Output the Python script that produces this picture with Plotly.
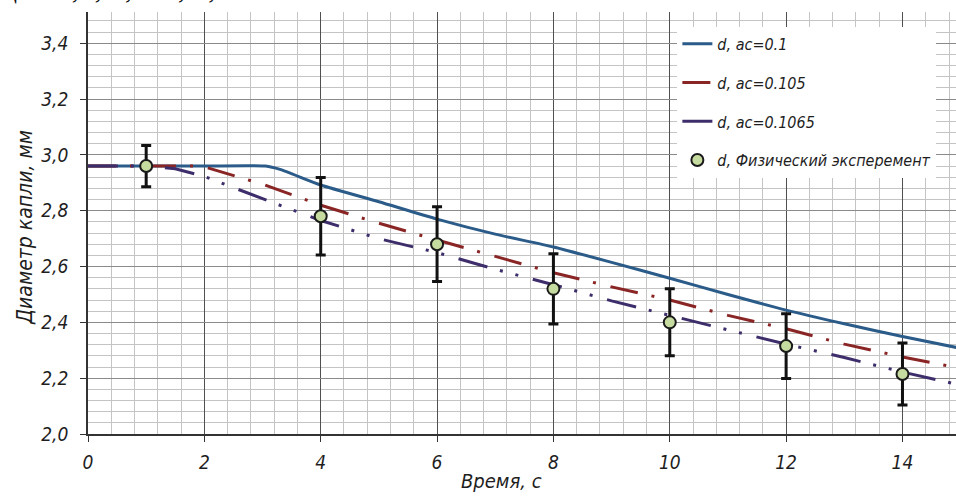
import plotly.graph_objects as go

# ---- data ----
t_blue = [0, 1, 2, 3.05, 3.3, 4, 5, 6, 7, 8, 9, 10, 11, 12, 13, 14, 15]
d_blue = [2.96, 2.96, 2.96, 2.96, 2.948, 2.892, 2.832, 2.77, 2.716, 2.67, 2.615, 2.558, 2.50, 2.444, 2.395, 2.349, 2.307]

t_red = [0, 1, 1.9, 2, 3, 4, 5, 6, 7, 8, 9, 10, 11, 12, 13, 14, 15]
d_red = [2.96, 2.96, 2.96, 2.957, 2.895, 2.82, 2.755, 2.695, 2.636, 2.578, 2.527, 2.48, 2.425, 2.377, 2.322, 2.276, 2.235]

t_purple = [0, 1, 1.5, 2, 3, 4, 5, 6, 7, 8, 9, 10, 11, 12, 13, 14, 15]
d_purple = [2.96, 2.96, 2.95, 2.923, 2.843, 2.765, 2.70, 2.65, 2.59, 2.535, 2.477, 2.424, 2.373, 2.322, 2.274, 2.222, 2.175]

t_exp = [1, 4, 6, 8, 10, 12, 14]
d_exp = [2.96, 2.78, 2.68, 2.52, 2.40, 2.315, 2.215]
err_exp = [0.074, 0.139, 0.134, 0.126, 0.12, 0.116, 0.111]

names = ["d, ac=0.1", "d, ac=0.105", "d, ac=0.1065", "d, Физический эксперемент"]
x_ticks = [0, 2, 4, 6, 8, 10, 12, 14]
y_ticks = [2.0, 2.2, 2.4, 2.6, 2.8, 3.0, 3.2, 3.4]

FONT = "Liberation Sans Narrow, DejaVu Sans Condensed, DejaVu Sans, sans-serif"
TXT = "#1e1e1e"

fig = go.Figure()
fig.add_trace(go.Scatter(x=t_blue, y=d_blue, mode="lines", name=names[0], legendgroup="a",
                         line=dict(color="#2b5b88", width=3, shape="spline", smoothing=0.6)))
fig.add_trace(go.Scatter(x=t_red, y=d_red, mode="lines", name=names[1], legendgroup="b",
                         line=dict(color="#8a2525", width=3, dash="28px,14px,3px,15px")))
fig.add_trace(go.Scatter(x=t_purple, y=d_purple, mode="lines", name=names[2], legendgroup="c",
                         line=dict(color="#3d2d6b", width=3, dash="30px,13px,3px,13px,3px,15px")))
fig.add_trace(go.Scatter(x=t_exp, y=d_exp, mode="markers", name=names[3], legendgroup="d",
                         marker=dict(size=12, color="#c6dba0", line=dict(color="#1a1a1a", width=2)),
                         error_y=dict(type="data", array=err_exp, visible=True, color="#111111",
                                      thickness=3, width=5)))

fig.add_annotation(text="ции 0,1; 0,105; 0,1065.", xref="paper", yref="paper",
                   x=-0.102, y=1.057, xanchor="left", yanchor="middle", showarrow=False,
                   font=dict(family="Liberation Serif, serif", size=30, color="#111"))
fig.add_annotation(text="Время, с", xref="paper", yref="paper", x=0.476, y=-0.112,
                   xanchor="center", yanchor="middle", showarrow=False,
                   font=dict(family=FONT, size=20, color=TXT, style="italic"))
fig.add_annotation(text="Диаметр капли, мм", xref="paper", yref="paper", x=-0.072, y=0.49,
                   xanchor="center", yanchor="middle", showarrow=False, textangle=-90,
                   font=dict(family=FONT, size=21, color=TXT, style="italic"))

fig.update_layout(
    width=956, height=497,
    margin=dict(l=88, r=0, t=12, b=63, autoexpand=False),
    paper_bgcolor="white", plot_bgcolor="white",
    separators=", ",
    showlegend=True,
    legend=dict(x=0.679, y=0.965, xanchor="left", yanchor="top", bgcolor="white",
                borderwidth=0, traceorder="grouped", tracegroupgap=15,
                entrywidth=240, entrywidthmode="pixels",
                font=dict(family=FONT, size=16, color=TXT, style="italic")),
    font=dict(family=FONT, color=TXT),
)
fig.update_xaxes(range=[0, 14.92], tickvals=x_ticks, ticktext=[str(v) for v in x_ticks],
                 showgrid=True, gridcolor="#505050", gridwidth=1, automargin=False,
                 minor=dict(dtick=0.4, tick0=0, showgrid=True, gridcolor="#c4c4c4", gridwidth=1),
                 showline=True, linecolor="#333", linewidth=1.5,
                 ticks="outside", ticklen=6, tickcolor="#333", ticklabelstandoff=4,
                 tickfont=dict(family=FONT, size=19, color=TXT, style="italic"), zeroline=False)
fig.update_yaxes(range=[2.0, 3.512], tickvals=y_ticks, tickformat=".1f",
                 showgrid=True, gridcolor="#8a8a8a", gridwidth=1, automargin=False,
                 minor=dict(dtick=0.04, tick0=2.0, showgrid=True, gridcolor="#c4c4c4", gridwidth=1),
                 showline=True, linecolor="#333", linewidth=1.5,
                 ticks="outside", ticklen=6, tickcolor="#333", ticklabelstandoff=8,
                 tickfont=dict(family=FONT, size=19, color=TXT, style="italic"), zeroline=False)

fig.write_html("out.html", config={"displayModeBar": False},
               post_script="document.body.style.margin='0';")
